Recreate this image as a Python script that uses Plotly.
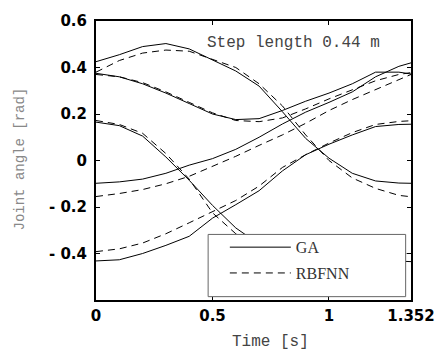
import plotly.graph_objects as go

# Time grid (s)
t = [0.0, 0.1, 0.2, 0.3, 0.4, 0.5, 0.6, 0.7, 0.8, 0.9, 1.0, 1.1, 1.2, 1.3, 1.352]

# GA joint angles (rad)
ga_1 = [0.425, 0.455, 0.49, 0.503, 0.48, 0.432, 0.385, 0.32, 0.21, 0.095, 0.01, -0.055, -0.088, -0.097, -0.098]
ga_2 = [0.375, 0.36, 0.33, 0.29, 0.245, 0.20, 0.176, 0.18, 0.215, 0.255, 0.29, 0.33, 0.38, 0.38, 0.372]
ga_3 = [0.165, 0.15, 0.105, 0.015, -0.085, -0.193, -0.29, -0.36, -0.39, -0.41, -0.42, -0.425, -0.43, -0.432, -0.435]
ga_4 = [-0.098, -0.092, -0.08, -0.055, -0.02, 0.008, 0.048, 0.10, 0.157, 0.208, 0.25, 0.295, 0.36, 0.405, 0.42]
ga_5 = [-0.432, -0.427, -0.40, -0.365, -0.326, -0.248, -0.19, -0.13, -0.045, 0.025, 0.07, 0.11, 0.146, 0.155, 0.156]

# RBFNN joint angles (rad)
rb_1 = [0.38, 0.43, 0.462, 0.475, 0.47, 0.435, 0.40, 0.33, 0.235, 0.11, 0.0, -0.075, -0.12, -0.15, -0.156]
rb_2 = [0.37, 0.36, 0.335, 0.295, 0.25, 0.205, 0.172, 0.167, 0.183, 0.222, 0.265, 0.303, 0.343, 0.37, 0.378]
rb_3 = [0.172, 0.155, 0.117, 0.03, -0.08, -0.225, -0.315, -0.36, -0.38, -0.39, -0.395, -0.398, -0.40, -0.40, -0.40]
rb_4 = [-0.155, -0.142, -0.125, -0.10, -0.068, -0.025, 0.018, 0.065, 0.11, 0.16, 0.215, 0.262, 0.305, 0.345, 0.37]
rb_5 = [-0.392, -0.38, -0.355, -0.315, -0.268, -0.22, -0.172, -0.11, -0.03, 0.025, 0.075, 0.12, 0.155, 0.168, 0.171]

ga_series = [ga_1, ga_2, ga_3, ga_4, ga_5]
rb_series = [rb_1, rb_2, rb_3, rb_4, rb_5]

x_ticks = [0, 0.5, 1, 1.352]
x_ticktext = ["0", "0.5", "1", "1.352"]
y_ticks = [-0.4, -0.2, 0, 0.2, 0.4, 0.6]
y_ticktext = ["- 0.4", "- 0.2", "0", "0.2", "0.4", "0.6"]

fig = go.Figure()
for i, (g, r) in enumerate(zip(ga_series, rb_series)):
    fig.add_trace(go.Scatter(x=t, y=g, mode="lines", name="GA", legendgroup="GA",
                             showlegend=(i == 0), line=dict(color="black", width=1)))
    fig.add_trace(go.Scatter(x=t, y=r, mode="lines", name="RBFNN", legendgroup="RBFNN",
                             showlegend=(i == 0),
                             line=dict(color="black", width=1, dash="7px,5px")))

tickfont = dict(family="DejaVu Sans", size=15, color="black", weight="bold")
mono = "Liberation Mono"

fig.update_layout(
    width=447, height=350,
    margin=dict(l=96, r=31, t=20, b=50),
    paper_bgcolor="white", plot_bgcolor="white",
    xaxis=dict(range=[0, 1.352], tickvals=x_ticks, ticktext=x_ticktext,
               showgrid=False, zeroline=False, showline=True, linecolor="black",
               linewidth=2, mirror="ticks", ticks="inside", ticklen=4,
               tickcolor="black", tickfont=tickfont, ticklabelstandoff=1),
    yaxis=dict(range=[-0.6, 0.6], tickvals=y_ticks, ticktext=y_ticktext,
               showgrid=False, zeroline=False, showline=True, linecolor="black",
               linewidth=2, mirror="ticks", ticks="inside", ticklen=4,
               tickcolor="black", tickfont=tickfont, ticklabelstandoff=4),
    legend=dict(x=0.409, y=0.25, xanchor="left", yanchor="top",
                bgcolor="rgba(0,0,0,0)", borderwidth=0, itemwidth=61,
                tracegroupgap=2,
                font=dict(family="Liberation Serif", size=16, color="#333")),
    shapes=[dict(type="rect", xref="paper", yref="paper",
                 x0=0.356, x1=0.983, y0=0.012, y1=0.235,
                 line=dict(color="#666", width=1), fillcolor="white", layer="above")],
    annotations=[
        dict(text="Step length 0.44 m", xref="paper", yref="paper", x=0.627, y=0.9225,
             xanchor="center", yanchor="middle",
             showarrow=False, font=dict(family=mono, size=16, color="#444")),
        dict(text="Time [s]", xref="paper", yref="paper", x=0.553, y=-0.149,
             xanchor="center", yanchor="middle",
             showarrow=False, font=dict(family=mono, size=16, color="#444")),
        dict(text="Joint angle [rad]", xref="paper", yref="paper", x=-0.24, y=0.505,
             xanchor="center", yanchor="middle",
             textangle=-90, showarrow=False, font=dict(family=mono, size=14, color="#888")),
    ],
)

fig.write_html("out.html")
